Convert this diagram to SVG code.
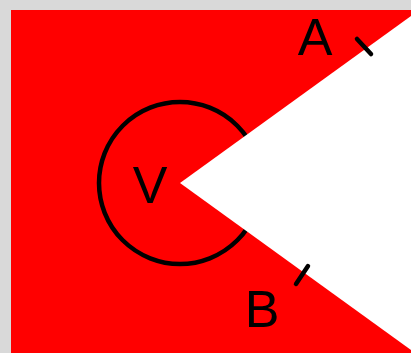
<svg xmlns="http://www.w3.org/2000/svg" width="411" height="353" viewBox="0 0 411 353">
<style>
.lbl{font-family:"Liberation Sans",Arial,sans-serif;font-size:52px;fill:#000;text-anchor:middle}
.ln{stroke:#000;stroke-width:4.5;fill:none;stroke-linecap:round}
</style>
<rect width="411" height="353" fill="#d9d9d9"/>
<rect x="11" y="10" width="400" height="343" fill="#ff0000"/>
<g id="angle">
<circle cx="180" cy="183" r="81" class="ln"/>
<polygon points="180,183 411,16 411,350" fill="#ffffff"/>
</g>
<g id="connectors">
<line x1="357" y1="39" x2="371" y2="54" class="ln"/>
<line x1="296" y1="284" x2="308" y2="266" class="ln"/>
</g>
<g id="A"><text x="315" y="55" class="lbl">A</text></g>
<g id="B"><text x="262" y="327" class="lbl">B</text></g>
<g id="V"><text x="150" y="203" class="lbl">V</text></g>
</svg>
